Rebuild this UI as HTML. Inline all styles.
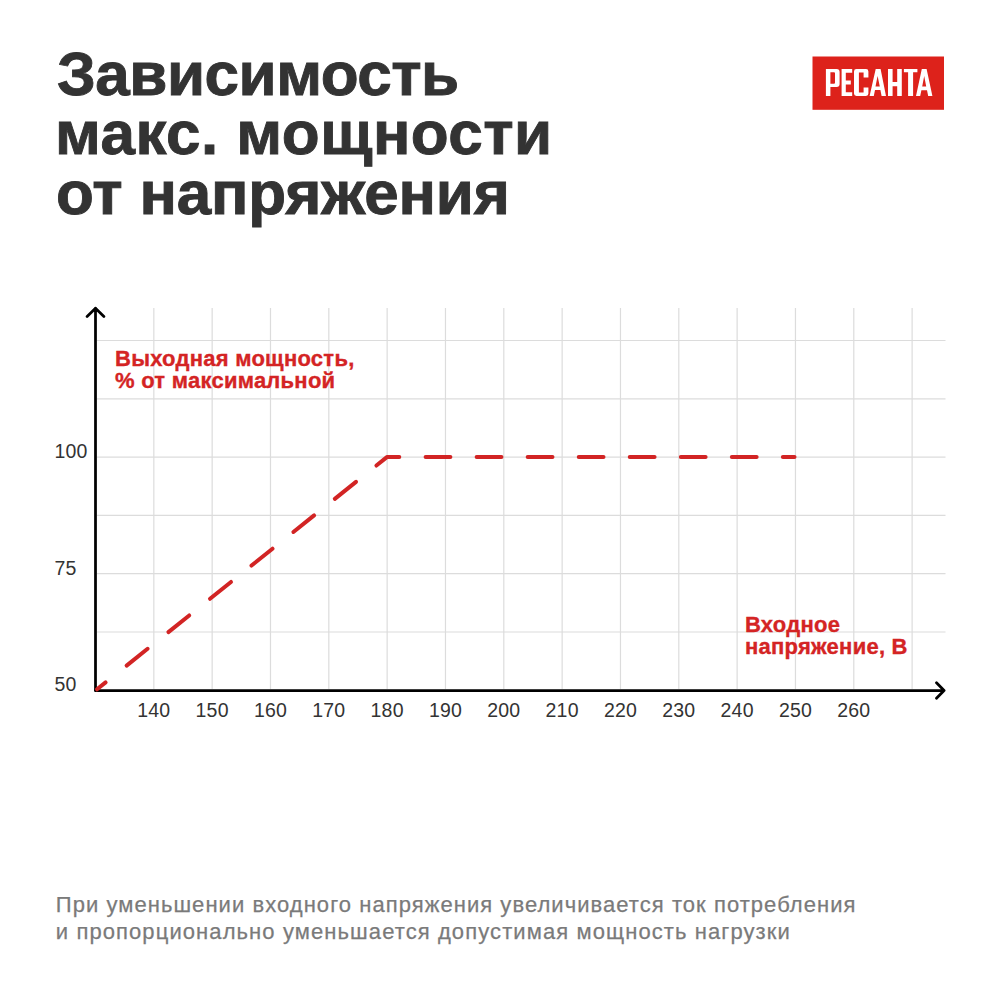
<!DOCTYPE html>
<html><head><meta charset="utf-8">
<style>
html,body{margin:0;padding:0;background:#fff;}
body{width:1000px;height:1000px;position:relative;overflow:hidden;font-family:"Liberation Sans",sans-serif;}
.t{position:absolute;white-space:nowrap;}
.title{left:55px;font-weight:bold;font-size:62px;line-height:60px;color:#333;letter-spacing:-0.2px;-webkit-text-stroke:0.9px #333;}
.red{font-weight:bold;font-size:22px;line-height:22px;color:#d42424;letter-spacing:0.25px;-webkit-text-stroke:0.35px #d42424;}
.xl{position:absolute;width:80px;text-align:center;top:699.7px;font-size:19.5px;line-height:20px;color:#333;letter-spacing:0.2px;}
.yl{position:absolute;left:54.5px;font-size:19.5px;line-height:20px;color:#333;letter-spacing:0.2px;}
.foot{left:55.8px;font-size:22px;line-height:27px;color:#7a7a7a;letter-spacing:1.09px;-webkit-text-stroke:0.25px #7a7a7a;}
svg{position:absolute;left:0;top:0;}
</style></head><body>
<div class="t title" style="top:43.5px;left:57px;letter-spacing:-0.5px">Зависимость</div>
<div class="t title" style="top:103px;letter-spacing:0.45px">макс. мощности</div>
<div class="t title" style="top:162.5px;left:56px;letter-spacing:-0.17px">от напряжения</div>
<svg width="1000" height="120" viewBox="0 0 1000 120" style="position:absolute;left:0;top:0">
<rect x="812.5" y="56.5" width="131.5" height="53.3" fill="#dd221b"/>
<g fill="#fff" fill-rule="evenodd">
<path d="M825.9 96V69H836.6Q839.6 69 839.6 72V83.9Q839.6 86.9 836.6 86.9H830.4V96Z M830.4 72.2H834Q835 72.2 835 73.2V82.8Q835 83.8 834 83.8H830.4Z"/>
<path d="M841.6 69H852.2V72.7H845.8V80.6H850.8V84.4H845.8V92.3H852.2V96H841.6Z"/>
<path d="M856.4 69H866Q868.4 69 868.4 71.4V77.6H863.6V72.6H858.9V92.4H863.6V87.6H868.4V93.6Q868.4 96 866 96H856.4Q854 96 854 93.6V71.4Q854 69 856.4 69Z"/>
<path d="M869.6 96L875.7 69H880.6L886 96H881.6L880.4 90.1H875L873.8 96Z M877.6 76L879.8 86.5H875.5Z"/>
<path d="M888 69H892.6V82H897.2V69H901.8V96H897.2V86.2H892.6V96H888Z"/>
<path d="M903.9 69H917.4V72.3H913.1V96H908.1V72.3H903.9Z"/>
<path d="M916 96L921.8 69H926.6L932.4 96H928.2L927 90.2H921.4L920.2 96Z M924.2 76L926.2 86.4H922.2Z"/>
</g></svg>
<svg width="1000" height="1000" viewBox="0 0 1000 1000">
<g stroke="#dcdcdc" stroke-width="1.2" fill="none"><line x1="153.83" y1="308" x2="153.83" y2="689"/><line x1="212.16" y1="308" x2="212.16" y2="689"/><line x1="270.49" y1="308" x2="270.49" y2="689"/><line x1="328.82" y1="308" x2="328.82" y2="689"/><line x1="387.15" y1="308" x2="387.15" y2="689"/><line x1="445.48" y1="308" x2="445.48" y2="689"/><line x1="503.81" y1="308" x2="503.81" y2="689"/><line x1="562.14" y1="308" x2="562.14" y2="689"/><line x1="620.47" y1="308" x2="620.47" y2="689"/><line x1="678.80" y1="308" x2="678.80" y2="689"/><line x1="737.13" y1="308" x2="737.13" y2="689"/><line x1="795.46" y1="308" x2="795.46" y2="689"/><line x1="853.79" y1="308" x2="853.79" y2="689"/><line x1="912.12" y1="308" x2="912.12" y2="689"/><line x1="97" y1="632.00" x2="945.5" y2="632.00"/><line x1="97" y1="573.70" x2="945.5" y2="573.70"/><line x1="97" y1="515.40" x2="945.5" y2="515.40"/><line x1="97" y1="457.10" x2="945.5" y2="457.10"/><line x1="97" y1="398.80" x2="945.5" y2="398.80"/><line x1="97" y1="340.50" x2="945.5" y2="340.50"/></g>
<g stroke="#000" stroke-width="2.75" fill="none" stroke-linecap="round" stroke-linejoin="round">
<path d="M95.5 690.5 V308.2 M87.1 316.5 L95.5 308.2 L103.9 316.5"/>
<path d="M95.5 690.5 H944.1 M936.5 682.7 L944.1 690.5 L936.5 698.3"/>
</g>
<g stroke="#d22424" stroke-width="4" fill="none" stroke-linecap="round" stroke-linejoin="round"><line x1="97.00" y1="689.30" x2="105.60" y2="682.41"/><line x1="126.60" y1="665.59" x2="147.60" y2="648.77"/><line x1="168.40" y1="632.11" x2="189.20" y2="615.45"/><line x1="210.00" y1="598.79" x2="231.00" y2="581.97"/><line x1="251.50" y1="565.55" x2="272.50" y2="548.73"/><line x1="293.40" y1="531.99" x2="314.10" y2="515.41"/><line x1="334.80" y1="498.83" x2="356.00" y2="481.85"/><polyline points="376.4,465.51 386.90,457.10 399.3,457.10"/><line x1="425.60" y1="457.10" x2="450.40" y2="457.10"/><line x1="476.64" y1="457.10" x2="501.44" y2="457.10"/><line x1="527.68" y1="457.10" x2="552.48" y2="457.10"/><line x1="578.72" y1="457.10" x2="603.52" y2="457.10"/><line x1="629.76" y1="457.10" x2="654.56" y2="457.10"/><line x1="680.80" y1="457.10" x2="705.60" y2="457.10"/><line x1="731.84" y1="457.10" x2="756.64" y2="457.10"/><line x1="782.88" y1="457.10" x2="794.50" y2="457.10"/></g>
</svg>
<div class="t red" style="left:115px;top:348px">Выходная мощность,</div>
<div class="t red" style="left:115px;top:370px">% от максимальной</div>
<div class="t red" style="left:745px;top:614px">Входное</div>
<div class="t red" style="left:745px;top:636px">напряжение, В</div>
<div class="yl" style="top:440.8px">100</div>
<div class="yl" style="top:557.6px">75</div>
<div class="yl" style="top:674.2px">50</div>
<div class="xl" style="left:113.83px">140</div><div class="xl" style="left:172.16px">150</div><div class="xl" style="left:230.49px">160</div><div class="xl" style="left:288.82px">170</div><div class="xl" style="left:347.15px">180</div><div class="xl" style="left:405.48px">190</div><div class="xl" style="left:463.81px">200</div><div class="xl" style="left:522.14px">210</div><div class="xl" style="left:580.47px">220</div><div class="xl" style="left:638.80px">230</div><div class="xl" style="left:697.13px">240</div><div class="xl" style="left:755.46px">250</div><div class="xl" style="left:813.79px">260</div>
<div class="t foot" style="top:891px;letter-spacing:1.05px">При уменьшении входного напряжения увеличивается ток потребления</div>
<div class="t foot" style="top:918px">и пропорционально уменьшается допустимая мощность нагрузки</div>
</body></html>
